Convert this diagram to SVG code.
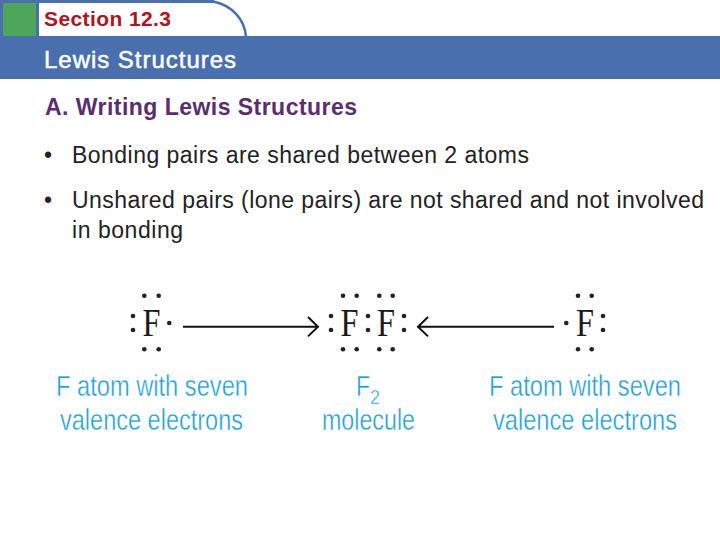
<svg xmlns="http://www.w3.org/2000/svg" width="720" height="540" viewBox="0 0 720 540">
<style>
.s{font-family:"Liberation Sans",Arial,sans-serif}
.b{font-size:23px;fill:#222222}
.a{font-family:"Liberation Serif","Times New Roman",serif;font-size:39px;fill:#1a1a1a}
.l{font-family:"Liberation Sans",Arial,sans-serif;font-size:29px;fill:#1f9fd6;stroke:#ffffff;stroke-width:.4px}
.c{fill:none;stroke:#111111;stroke-width:2}
.d{fill:#222222}
</style>
<defs><circle id="e" r="2.3" class="d"/></defs>
<rect width="720" height="540" fill="#ffffff"/>
<g id="header">
<rect x="0" y="0" width="214" height="3" fill="#4a6fae"/>
<rect x="0" y="0" width="39" height="37" fill="#4a6fae"/>
<rect x="3" y="3" width="33" height="33" fill="#4ea65a"/>
<rect x="0" y="36" width="720" height="43" fill="#4a6fae"/>
<path d="M213 1.500C232 5 245 20 246 37" fill="none" stroke="#4a6fae" stroke-width="2.500"/>
<text class="s" x="44" y="26" font-size="21" font-weight="700" fill="#b0141f" textLength="127" lengthAdjust="spacing">Section 12.3</text>
<text class="s" x="44" y="68" font-size="24" fill="#ffffff" stroke="#ffffff" stroke-width=".5" textLength="192" lengthAdjust="spacing">Lewis Structures</text>
</g>
<g id="body">
<text class="s" x="45" y="115" font-size="23" font-weight="700" fill="#5a2d6f" textLength="312" lengthAdjust="spacing">A. Writing Lewis Structures</text>
<text class="s b" x="44" y="163">•</text>
<text class="s b" x="72" y="163" textLength="457" lengthAdjust="spacing">Bonding pairs are shared between 2 atoms</text>
<text class="s b" x="44" y="208">•</text>
<text class="s b" x="72" y="208" textLength="632" lengthAdjust="spacing">Unshared pairs (lone pairs) are not shared and not involved</text>
<text class="s b" x="72" y="238" textLength="111" lengthAdjust="spacing">in bonding</text>
</g>
<g id="connectors">
<path class="c" d="M183 326.700H317M308 317L318 326.700L308 336.400"/>
<path class="c" d="M554 326.700H419M428 317L418 326.700L428 336.400"/>
</g>
<g id="atom-left">
<text class="a" x="142.500" y="336" textLength="18" lengthAdjust="spacingAndGlyphs">F</text>
<use href="#e" x="144.300" y="295.700"/><use href="#e" x="158.700" y="295.700"/>
<use href="#e" x="144.300" y="349.300"/><use href="#e" x="158.700" y="349.300"/>
<use href="#e" x="133" y="316"/><use href="#e" x="133" y="330"/>
<use href="#e" x="169.300" y="323"/>
</g>
<g id="molecule">
<text class="a" x="340.500" y="336" textLength="18" lengthAdjust="spacingAndGlyphs">F</text>
<text class="a" x="377" y="336" textLength="18" lengthAdjust="spacingAndGlyphs">F</text>
<use href="#e" x="343" y="295.700"/><use href="#e" x="356.700" y="295.700"/>
<use href="#e" x="379.300" y="295.700"/><use href="#e" x="392.700" y="295.700"/>
<use href="#e" x="343" y="349.300"/><use href="#e" x="356.700" y="349.300"/>
<use href="#e" x="379.300" y="349.300"/><use href="#e" x="392.700" y="349.300"/>
<use href="#e" x="331" y="316"/><use href="#e" x="331" y="330"/>
<use href="#e" x="368" y="316"/><use href="#e" x="368" y="330"/>
<use href="#e" x="404" y="316"/><use href="#e" x="404" y="330"/>
</g>
<g id="atom-right">
<text class="a" x="576" y="336" textLength="18" lengthAdjust="spacingAndGlyphs">F</text>
<use href="#e" x="578" y="295.700"/><use href="#e" x="591.700" y="295.700"/>
<use href="#e" x="578" y="349.300"/><use href="#e" x="591.700" y="349.300"/>
<use href="#e" x="566.300" y="323"/>
<use href="#e" x="603" y="316"/><use href="#e" x="603" y="330"/>
</g>
<g id="label-left">
<text class="l" x="56" y="396" textLength="192" lengthAdjust="spacingAndGlyphs">F atom with seven</text>
<text class="l" x="60" y="430" textLength="183" lengthAdjust="spacingAndGlyphs">valence electrons</text>
</g>
<g id="label-middle">
<text class="l" x="356" y="396" textLength="14" lengthAdjust="spacingAndGlyphs">F</text>
<text class="l" x="370" y="404" style="font-size:20px" textLength="10" lengthAdjust="spacingAndGlyphs">2</text>
<text class="l" x="322" y="430" textLength="93" lengthAdjust="spacingAndGlyphs">molecule</text>
</g>
<g id="label-right">
<text class="l" x="489" y="396" textLength="192" lengthAdjust="spacingAndGlyphs">F atom with seven</text>
<text class="l" x="493" y="430" textLength="184" lengthAdjust="spacingAndGlyphs">valence electrons</text>
</g>
</svg>
